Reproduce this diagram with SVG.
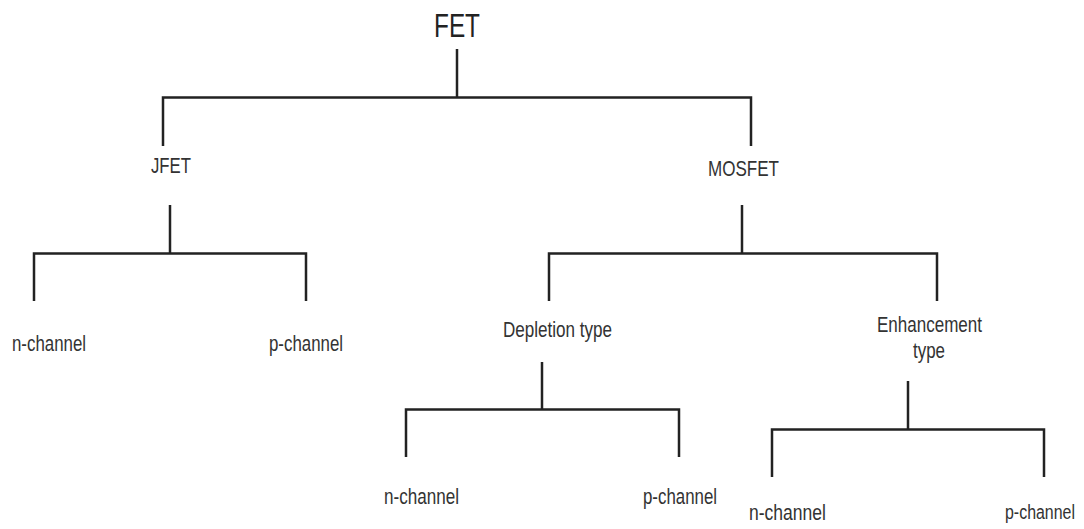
<svg xmlns="http://www.w3.org/2000/svg" width="1084" height="529" viewBox="0 0 1084 529">
<style>
.bg{fill:#ffffff}
.lbl{font-family:"Liberation Sans Narrow","Liberation Sans",Arial,sans-serif;font-size:22px;fill:#333333}
.lbl-s{font-family:"Liberation Sans Narrow","Liberation Sans",Arial,sans-serif;font-size:20px;fill:#333333}
.title{font-family:"Liberation Sans Narrow","Liberation Sans",Arial,sans-serif;font-size:33px;fill:#222222}
.conn{fill:none;stroke:#222222;stroke-width:2.5;stroke-linejoin:miter;stroke-linecap:butt}
</style>
<rect class="bg" x="0" y="0" width="1084" height="529"/>
<g id="connectors">
  <path class="conn" d="M457 49 V97"/>
  <path class="conn" d="M163 146 V97.5 H751 V146"/>
  <path class="conn" d="M170 205 V253"/>
  <path class="conn" d="M34 301 V253.5 H306 V301"/>
  <path class="conn" d="M742 205 V253"/>
  <path class="conn" d="M549 301 V253.5 H937 V301"/>
  <path class="conn" d="M542 362 V409"/>
  <path class="conn" d="M406 457 V409.5 H679 V457"/>
  <path class="conn" d="M908 381 V429"/>
  <path class="conn" d="M772 477 V429.5 H1044 V477"/>
</g>
<g id="node-fet"><text class="title" x="434" y="37" textLength="46" lengthAdjust="spacingAndGlyphs">FET</text></g>
<g id="node-jfet"><text class="lbl" x="151" y="173" textLength="40" lengthAdjust="spacingAndGlyphs">JFET</text></g>
<g id="node-mosfet"><text class="lbl" x="708" y="176" textLength="71" lengthAdjust="spacingAndGlyphs">MOSFET</text></g>
<g id="node-jfet-n"><text class="lbl" x="12" y="351" textLength="74" lengthAdjust="spacingAndGlyphs">n-channel</text></g>
<g id="node-jfet-p"><text class="lbl" x="269" y="351" textLength="74" lengthAdjust="spacingAndGlyphs">p-channel</text></g>
<g id="node-depletion"><text class="lbl" x="503" y="336.5" textLength="109" lengthAdjust="spacingAndGlyphs">Depletion type</text></g>
<g id="node-enhancement">
  <text class="lbl" x="877" y="331.5" textLength="105" lengthAdjust="spacingAndGlyphs">Enhancement</text>
  <text class="lbl" x="913" y="358" textLength="32" lengthAdjust="spacingAndGlyphs">type</text>
</g>
<g id="node-dep-n"><text class="lbl" x="384" y="504" textLength="75" lengthAdjust="spacingAndGlyphs">n-channel</text></g>
<g id="node-dep-p"><text class="lbl" x="643" y="504" textLength="74" lengthAdjust="spacingAndGlyphs">p-channel</text></g>
<g id="node-enh-n"><text class="lbl" x="749" y="520" textLength="77" lengthAdjust="spacingAndGlyphs">n-channel</text></g>
<g id="node-enh-p"><text class="lbl-s" x="1005" y="519" textLength="70" lengthAdjust="spacingAndGlyphs">p-channel</text></g>
</svg>
